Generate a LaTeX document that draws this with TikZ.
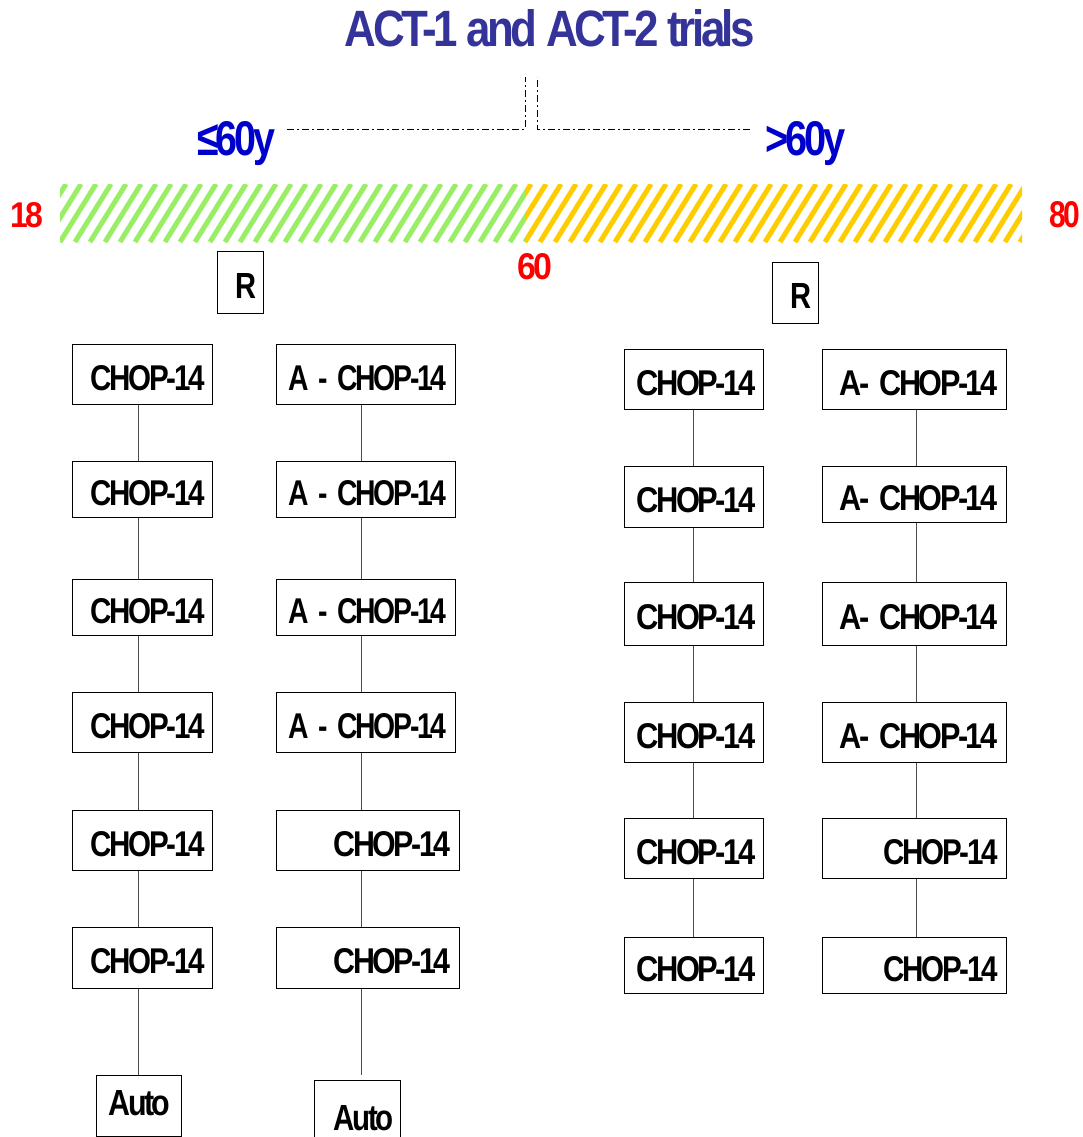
\documentclass[tikz,border=0pt]{standalone}
\usepackage{fontspec}
\setmainfont{Liberation Sans}[LetterSpace=-8]
\usepackage{graphicx}
\definecolor{ttl}{RGB}{51,51,153}
\definecolor{agec}{RGB}{0,0,204}
\definecolor{hgreen}{RGB}{153,238,102}
\definecolor{horange}{RGB}{255,204,0}
\definecolor{numred}{RGB}{255,0,0}
\newcommand\sq[3]{\resizebox{#1pt}{#2pt}{\bfseries #3}}
\newcommand\bt[2]{\raisebox{0pt}[31pt][0pt]{\sq{#1}{25}{#2}}}
\newcommand\cbox[7]{%
 \pgfmathsetmacro\bw{#4-#2}%
 \pgfmathsetmacro\bh{#5-#3}%
 \pgfmathsetmacro\tw{#4-#2-2*#6}%
 \node[boxs, minimum width=\bw pt, minimum height=\bh pt, text width=\tw pt, inner xsep=#6pt, anchor=north west] (#1) at (#2,#3) {#7};}
\tikzset{
 boxs/.style={draw=black, line width=1.1pt, inner ysep=0pt, align=right, fill=white},
 conn/.style={draw=black!70, line width=0.9pt},
 dashdot/.style={draw=black, line width=0.9pt, dash pattern=on 7pt off 3pt on 2pt off 3pt},
 txt/.style={inner sep=0pt, anchor=base west},
}
\begin{document}
\begin{tikzpicture}[x=1pt,y=-1pt]
\useasboundingbox (0,0) rectangle (1083,1137);
\clip (0,0) rectangle (1083,1137);

% title and age labels
\node[txt, anchor=base, text=ttl] (title) at (550,47) {\sq{410}{37}{ACT-1 and ACT-2 trials}};
\node[txt, text=agec] (young) at (197,155) {\sq{78}{34}{≤60y}};
\node[txt, text=agec] (old) at (765,155) {\sq{80}{34}{>60y}};

% dash-dot split
\coordinate (yl) at (287,129);
\coordinate (tl) at (525,77);
\coordinate (ol) at (750,129);
\coordinate (tr) at (537,77);
\draw[dashdot] (yl) -| (tl);
\draw[dashdot] (ol) -| (tr);

% hatched age bars
\begin{scope}
\clip (60,184) rectangle (525,242);
\foreach \i in {-4,...,32} \draw[hgreen, line width=5pt] ({60+\i*15},242) -- ++(36,-58);
\end{scope}
\begin{scope}
\clip (525,184) rectangle (1022,242);
\foreach \i in {-4,...,34} \draw[horange, line width=5pt] ({525+\i*15},242) -- ++(36,-58);
\end{scope}

% age numbers
\node[txt, text=numred] (n18) at (10,227) {\sq{33}{25}{18}};
\node[txt, text=numred] (n60) at (517,279) {\sq{35}{26}{60}};
\node[txt, text=numred] (n80) at (1049,227) {\sq{31}{26}{80}};

% randomisation boxes
\cbox{RL}{217}{251}{263}{313}{7}{\bt{21}{R}}
\cbox{RR}{772}{262}{818}{323}{7}{\bt{21}{R}}

% left arm, column A
\cbox{LA1}{72}{344}{212}{404}{8}{\bt{114}{CHOP-14}}
\cbox{LA2}{72}{461}{212}{517}{8}{\bt{114}{CHOP-14}}
\cbox{LA3}{72}{579}{212}{635}{8}{\bt{114}{CHOP-14}}
\cbox{LA4}{72}{692}{212}{752}{8}{\bt{114}{CHOP-14}}
\cbox{LA5}{72}{810}{212}{870}{8}{\bt{114}{CHOP-14}}
\cbox{LA6}{72}{927}{212}{988}{8}{\bt{114}{CHOP-14}}
\cbox{LA7}{96}{1075}{181}{1136}{11}{\raisebox{0pt}[25pt][6pt]{\sq{62}{25}{Auto}}}

% left arm, column B
\cbox{LB1}{276}{344}{455}{404}{9}{\bt{158}{A - CHOP-14}}
\cbox{LB2}{276}{461}{455}{517}{9}{\bt{158}{A - CHOP-14}}
\cbox{LB3}{276}{579}{455}{635}{9}{\bt{158}{A - CHOP-14}}
\cbox{LB4}{276}{692}{455}{752}{9}{\bt{158}{A - CHOP-14}}
\cbox{LB5}{276}{810}{459}{870}{9}{\bt{117}{CHOP-14}}
\cbox{LB6}{276}{927}{459}{988}{9}{\bt{117}{CHOP-14}}
\cbox{LB7}{314}{1080}{400}{1150}{7}{\raisebox{0pt}[30pt][0pt]{\sq{60}{25}{Auto}}}

% right arm, column A
\cbox{RA1}{624}{349}{763}{409}{8}{\bt{119}{CHOP-14}}
\cbox{RA2}{624}{466}{763}{527}{8}{\bt{119}{CHOP-14}}
\cbox{RA3}{624}{582}{763}{645}{8}{\bt{119}{CHOP-14}}
\cbox{RA4}{624}{702}{763}{762}{8}{\bt{119}{CHOP-14}}
\cbox{RA5}{624}{818}{763}{878}{8}{\bt{119}{CHOP-14}}
\cbox{RA6}{624}{937}{763}{993}{8}{\bt{119}{CHOP-14}}

% right arm, column B
\cbox{RB1}{822}{349}{1006}{409}{9}{\bt{158}{A- CHOP-14}}
\cbox{RB2}{822}{466}{1006}{522}{9}{\bt{158}{A- CHOP-14}}
\cbox{RB3}{822}{582}{1006}{645}{9}{\bt{158}{A- CHOP-14}}
\cbox{RB4}{822}{702}{1006}{762}{9}{\bt{158}{A- CHOP-14}}
\cbox{RB5}{822}{818}{1006}{878}{9}{\bt{114}{CHOP-14}}
\cbox{RB6}{822}{937}{1006}{993}{9}{\bt{114}{CHOP-14}}

% connector columns
\coordinate (xLA) at (138,0);
\coordinate (xLB) at (361,0);
\coordinate (xRA) at (693,0);
\coordinate (xRB) at (916,0);
\coordinate (LBend) at (361,1075);

\foreach \a/\b in {1/2,2/3,3/4,4/5,5/6,6/7}{
  \draw[conn] (LA\a.south -| xLA) -- (LA\b.north -| xLA);
}
\foreach \a/\b in {1/2,2/3,3/4,4/5,5/6}{
  \draw[conn] (LB\a.south -| xLB) -- (LB\b.north -| xLB);
  \draw[conn] (RA\a.south -| xRA) -- (RA\b.north -| xRA);
  \draw[conn] (RB\a.south -| xRB) -- (RB\b.north -| xRB);
}
\draw[conn] (LB6.south -| xLB) -- (LBend);
\end{tikzpicture}
\end{document}
